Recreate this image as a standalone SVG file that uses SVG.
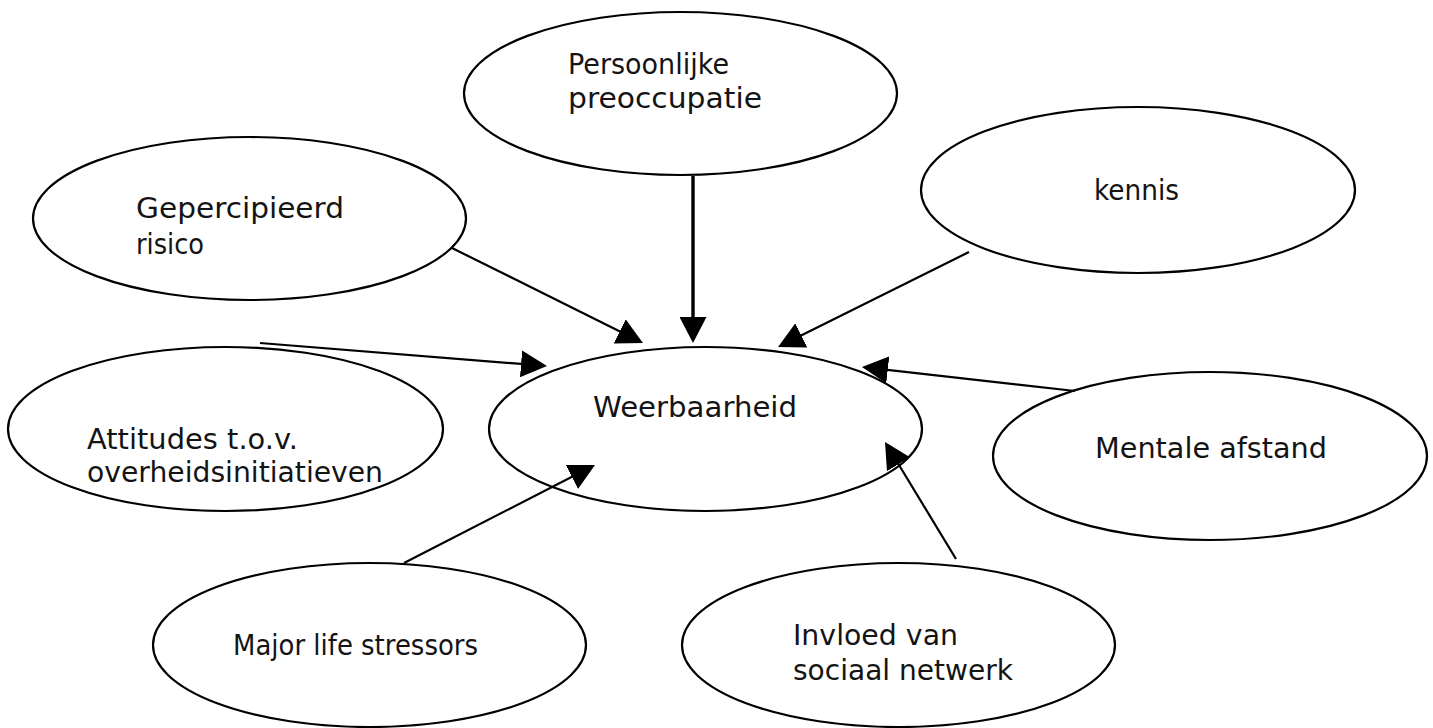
<svg xmlns="http://www.w3.org/2000/svg" width="1433" height="728" viewBox="0 0 1433 728">
  <style>
    .node ellipse { fill: #ffffff; stroke: #000000; stroke-width: 2.2; }
    .node text { font-family: "DejaVu Sans", "Liberation Sans", sans-serif; font-size: 28px; fill: #141414; }
    .edge { stroke: #000000; stroke-width: 2.2; fill: none; marker-end: url(#head); }
    .edge.thick { stroke-width: 3.4; }
  </style>
  <defs>
    <marker id="head" markerUnits="userSpaceOnUse" markerWidth="27" markerHeight="27" refX="16" refY="13.5" orient="auto">
      <path d="M0,0 L26,13.5 L0,27 Z" fill="#000000"/>
    </marker>
  </defs>
  <rect width="1433" height="728" fill="#ffffff"/>

  <!-- factor nodes -->
  <g id="persoonlijke-preoccupatie" class="node">
    <ellipse cx="680.5" cy="93.5" rx="216.5" ry="81.5"/>
    <text x="568" y="74" textLength="161" lengthAdjust="spacingAndGlyphs">Persoonlijke</text>
    <text x="568" y="108" textLength="194" lengthAdjust="spacingAndGlyphs">preoccupatie</text>
  </g>
  <g id="gepercipieerd-risico" class="node">
    <ellipse cx="249.5" cy="218.5" rx="216.5" ry="81.5"/>
    <text x="136" y="218" textLength="208" lengthAdjust="spacingAndGlyphs">Gepercipieerd</text>
    <text x="136" y="254" textLength="68" lengthAdjust="spacingAndGlyphs">risico</text>
  </g>
  <g id="kennis" class="node">
    <ellipse cx="1138" cy="190" rx="217" ry="83"/>
    <text x="1094" y="200" textLength="85" lengthAdjust="spacingAndGlyphs">kennis</text>
  </g>
  <g id="attitudes" class="node">
    <ellipse cx="225.5" cy="429" rx="217.5" ry="82"/>
    <text x="87" y="449" textLength="211" lengthAdjust="spacingAndGlyphs">Attitudes t.o.v.</text>
    <text x="87" y="482" textLength="296" lengthAdjust="spacingAndGlyphs">overheidsinitiatieven</text>
  </g>
  <g id="weerbaarheid" class="node">
    <ellipse cx="705.5" cy="429" rx="216.5" ry="82"/>
    <text x="593" y="417" textLength="204" lengthAdjust="spacingAndGlyphs">Weerbaarheid</text>
  </g>
  <g id="mentale-afstand" class="node">
    <ellipse cx="1210" cy="456" rx="217" ry="84"/>
    <text x="1095" y="458" textLength="232" lengthAdjust="spacingAndGlyphs">Mentale afstand</text>
  </g>
  <g id="major-life-stressors" class="node">
    <ellipse cx="369.5" cy="645" rx="216.5" ry="82"/>
    <text x="233" y="655" textLength="245" lengthAdjust="spacingAndGlyphs">Major life stressors</text>
  </g>
  <g id="invloed-sociaal-netwerk" class="node">
    <ellipse cx="898.5" cy="645" rx="216.5" ry="82"/>
    <text x="793" y="645" textLength="165" lengthAdjust="spacingAndGlyphs">Invloed van</text>
    <text x="793" y="680" textLength="220" lengthAdjust="spacingAndGlyphs">sociaal netwerk</text>
  </g>

  <!-- influences pointing at the central node -->
  <g id="connectors">
    <line class="edge thick" x1="693" y1="176" x2="693" y2="333"/>
    <line class="edge" x1="452" y1="248" x2="634" y2="338.5"/>
    <line class="edge" x1="969" y1="252" x2="787" y2="342.5"/>
    <line class="edge" x1="260" y1="343" x2="537" y2="365.2"/>
    <line class="edge" x1="1075" y1="391" x2="871.9" y2="368.1"/>
    <line class="edge" x1="404" y1="563" x2="586.1" y2="469.6"/>
    <line class="edge" x1="956" y1="559" x2="890.2" y2="450.5"/>
  </g>
</svg>
